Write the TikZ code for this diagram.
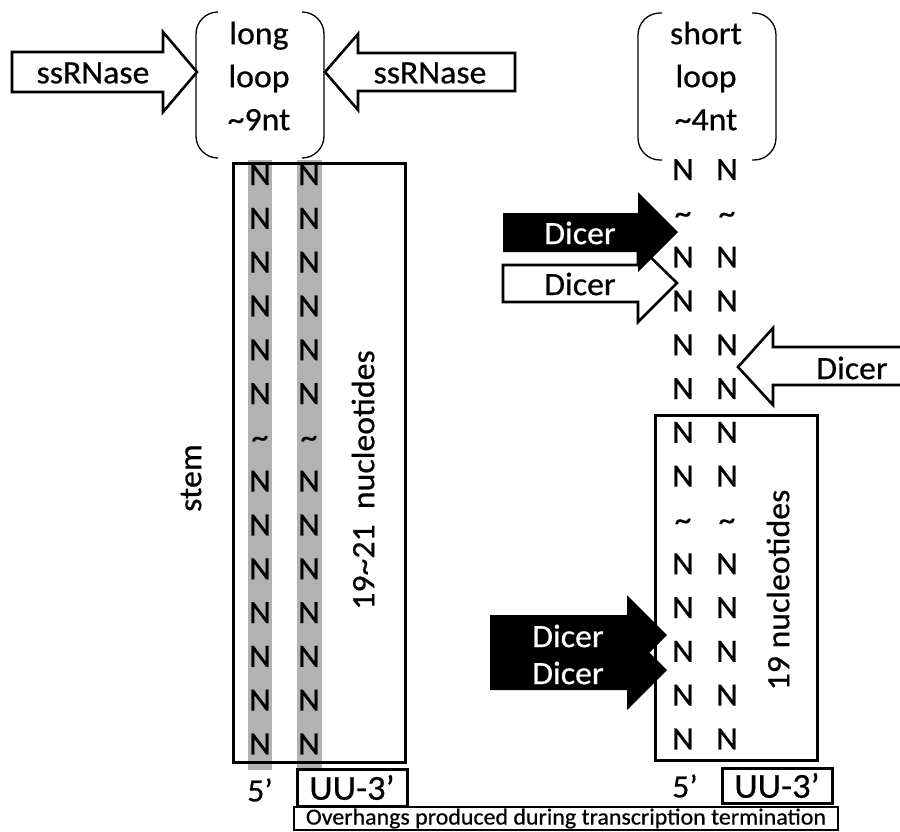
\documentclass[tikz,border=0pt]{standalone}
\usepackage{fontspec}
\setmainfont{Carlito}[FakeStretch=1.04,FakeBold=0.6]
\usetikzlibrary{positioning}

\tikzset{
  nt/.style={font=\fontsize{32.5}{32.5}\selectfont, inner sep=0pt, anchor=base},
  lbl/.style={font=\fontsize{32.5}{32.5}\selectfont, inner sep=0pt},
  looptext/.style={font=\fontsize{32.5}{43}\selectfont, inner sep=0pt, align=center},
  blockarrow/.style={draw, line width=2.6pt, fill=white, miter limit=10},
  darkarrow/.style={fill=black},
  bracket/.style={line width=1.3pt, rounded corners=22pt},
  frame/.style={draw, line width=3pt, inner sep=0pt},
  band/.style={fill=gray!60}
}

\begin{document}
\begin{tikzpicture}[x=1pt,y=-1pt]
\useasboundingbox (0,0) rectangle (900,831);

\fill[band] (248,160) rectangle (272,770);
\fill[band] (297,160) rectangle (322,768);
\node[frame, minimum width=172, minimum height=599] (longstem) at (319,462.5) {};
\foreach \k in {0,...,13}{
  \ifnum\k=6 \def\base{\textasciitilde}\else\def\base{N}\fi
  \node[nt] (lfive\k) at (260,185+43.8*\k) {\base};
  \node[nt] (lthree\k) at (309,185+43.8*\k) {\base};
}
\node[lbl, rotate=90] (longlen) at (363,480) {19\textasciitilde21~ nucleotides};
\node[lbl, rotate=90] (stem) at (191,478) {stem};

\node[looptext] (longloop) at (259,76) {long\\loop\\\textasciitilde9nt};
\draw[bracket] (218,12) -- (196,12) -- (196,158) -- (218,158);
\draw[bracket] (302,12) -- (324,12) -- (324,158) -- (302,158);

\draw[blockarrow] (12,52) -- (163,52) -- (163,32) -- (197,72) -- (163,112) -- (163,92) -- (12,92) -- cycle;
\node[lbl] (ssrleft) at (93,73) {ssRNase};
\draw[blockarrow] (515,53) -- (358,53) -- (358,34) -- (325,72) -- (358,110) -- (358,91) -- (515,91) -- cycle;
\node[lbl] (ssrright) at (430,73) {ssRNase};

\node[lbl] (lfiveend) at (260,790) {5'};
\node[frame, minimum width=110, minimum height=37, font=\fontsize{35}{35}\selectfont] (lthreeend) at (352,787.5) {UU-3'};

\node[looptext] (shortloop) at (706,76) {short\\loop\\\textasciitilde4nt};
\draw[bracket] (662,13) -- (638,13) -- (638,160) -- (662,160);
\draw[bracket] (752,13) -- (776,13) -- (776,160) -- (752,160);

\node[frame, minimum width=162, minimum height=345] (shortstem) at (736,587.5) {};
\foreach \k in {0,...,13}{
  \ifnum\k=1 \def\base{\textasciitilde}\else\ifnum\k=8 \def\base{\textasciitilde}\else\def\base{N}\fi\fi
  \node[nt] (rfive\k) at (683,180+43.8*\k) {\base};
  \node[nt] (rthree\k) at (727,180+43.8*\k) {\base};
}
\node[lbl, rotate=90] (shortlen) at (778,590) {19 nucleotides};

\draw[blockarrow] (503,265) -- (638,265) -- (638,245) -- (677,283) -- (638,322) -- (638,302) -- (503,302) -- cycle;
\node[lbl] (dicerb) at (580,284) {Dicer};
\fill[darkarrow] (503,213) -- (638,213) -- (638,192) -- (678,232) -- (638,272) -- (638,252) -- (503,252) -- cycle;
\node[lbl, text=white] (dicera) at (580,233) {Dicer};
\draw[blockarrow] (903,347) -- (773,347) -- (773,328) -- (738,367) -- (773,405) -- (773,385) -- (903,385) -- cycle;
\node[lbl] (dicerc) at (852,368) {Dicer};

\fill[darkarrow] (490,615) -- (627,615) -- (627,595) -- (667,635) -- (627,675) -- (627,655) -- (490,655) -- cycle;
\fill[darkarrow] (490,650) -- (627,650) -- (627,630) -- (667,670) -- (627,710) -- (627,690) -- (490,690) -- cycle;
\node[lbl, text=white] (dicerd) at (568,636) {Dicer};
\node[lbl, text=white] (dicere) at (568,673) {Dicer};

\node[lbl] (rfiveend) at (685,786) {5'};
\node[frame, minimum width=110, minimum height=35, font=\fontsize{35}{35}\selectfont] (rthreeend) at (777,785.5) {UU-3'};

\node[draw, line width=1.4pt, minimum width=544, minimum height=23, inner sep=0pt, font=\fontsize{23}{23}\selectfont] (overhang) at (566,818.5) {Overhangs produced during transcription termination};
\end{tikzpicture}
\end{document}
